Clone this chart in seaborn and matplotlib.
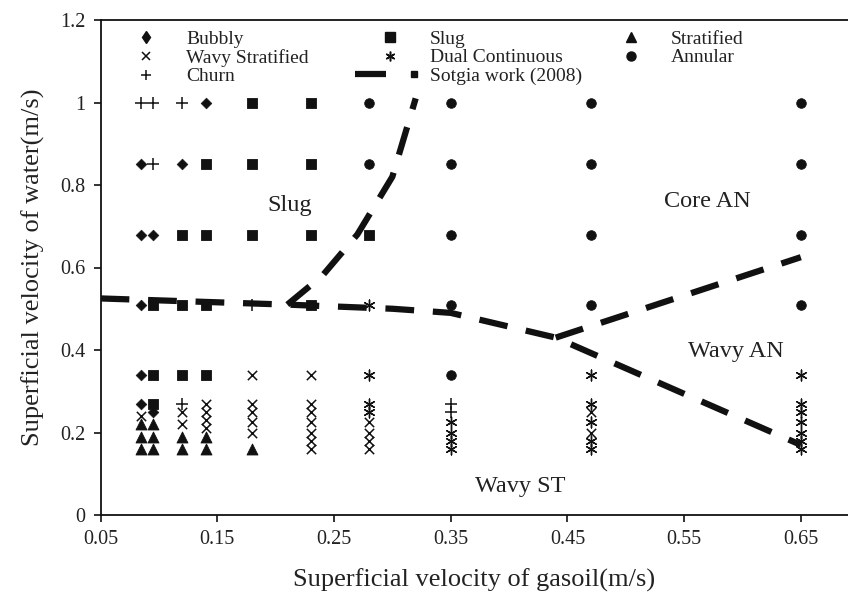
import matplotlib
matplotlib.use("Agg")
import matplotlib.pyplot as plt
import seaborn as sns
import pandas as pd
from matplotlib.lines import Line2D
from matplotlib.legend import Legend
from matplotlib.legend_handler import HandlerBase

sns.set_theme(style="ticks")
plt.rcParams["font.family"] = ["Liberation Serif", "DejaVu Serif"]

# Observed flow-pattern points (gasoil velocity, water velocity), per regime
bubbly_x = [0.14, 0.085, 0.12, 0.085, 0.095, 0.085, 0.085, 0.085, 0.095]
bubbly_y = [1.00, 0.85, 0.85, 0.68, 0.68, 0.51, 0.34, 0.27, 0.25]

slug_x = [0.18, 0.23, 0.14, 0.18, 0.23, 0.12, 0.14, 0.18, 0.23, 0.28,
          0.095, 0.12, 0.14, 0.23, 0.095, 0.12, 0.14, 0.095]
slug_y = [1.00, 1.00, 0.85, 0.85, 0.85, 0.68, 0.68, 0.68, 0.68, 0.68,
          0.51, 0.51, 0.51, 0.51, 0.34, 0.34, 0.34, 0.27]

strat_x = [0.085, 0.085, 0.085, 0.095, 0.095, 0.095, 0.12, 0.12, 0.14, 0.14, 0.18]
strat_y = [0.22, 0.19, 0.16, 0.22, 0.19, 0.16, 0.19, 0.16, 0.19, 0.16, 0.16]

wavy_x = [0.085, 0.12, 0.12, 0.14, 0.14, 0.14, 0.14,
          0.18, 0.18, 0.18, 0.18, 0.18,
          0.23, 0.23, 0.23, 0.23, 0.23, 0.23, 0.23,
          0.28, 0.28, 0.28, 0.28, 0.47, 0.47]
wavy_y = [0.24, 0.25, 0.22, 0.27, 0.25, 0.23, 0.21,
          0.34, 0.27, 0.25, 0.225, 0.20,
          0.34, 0.27, 0.25, 0.225, 0.20, 0.18, 0.16,
          0.225, 0.20, 0.18, 0.16, 0.25, 0.20]

dual_x = [0.28, 0.28, 0.28, 0.28, 0.35, 0.35, 0.35, 0.35,
          0.47, 0.47, 0.47, 0.47, 0.47,
          0.65, 0.65, 0.65, 0.65, 0.65, 0.65, 0.65]
dual_y = [0.51, 0.34, 0.27, 0.25, 0.225, 0.20, 0.18, 0.16,
          0.34, 0.27, 0.225, 0.18, 0.16,
          0.34, 0.27, 0.25, 0.225, 0.20, 0.18, 0.16]

annular_x = [0.28, 0.35, 0.47, 0.65, 0.28, 0.35, 0.47, 0.65,
             0.35, 0.47, 0.65, 0.35, 0.47, 0.65, 0.35]
annular_y = [1.00, 1.00, 1.00, 1.00, 0.85, 0.85, 0.85, 0.85,
             0.68, 0.68, 0.68, 0.51, 0.51, 0.51, 0.34]

churn_x = [0.085, 0.095, 0.12, 0.095, 0.18, 0.12, 0.35, 0.35]
churn_y = [1.00, 1.00, 1.00, 0.85, 0.51, 0.27, 0.27, 0.25]

# Transition boundaries from Sotgia et al. (2008)
stratified_bound_x = [0.05, 0.21, 0.30, 0.35, 0.44, 0.65]
stratified_bound_y = [0.525, 0.51, 0.50, 0.49, 0.43, 0.17]
slug_bound_x = [0.21, 0.24, 0.27, 0.30, 0.32]
slug_bound_y = [0.51, 0.58, 0.68, 0.82, 1.01]
annular_bound_x = [0.44, 0.65]
annular_bound_y = [0.43, 0.625]

region_names = ["Slug", "Core AN", "Wavy AN", "Wavy ST"]
region_x = [0.212, 0.57, 0.594, 0.41]
region_y = [0.75, 0.76, 0.397, 0.068]

x_ticks = [0.05, 0.15, 0.25, 0.35, 0.45, 0.55, 0.65]
y_ticks = [0, 0.2, 0.4, 0.6, 0.8, 1.0, 1.2]

INK = "#111111"
TXT = "#222222"

W, H = 848, 593
fig = plt.figure(figsize=(W / 100, H / 100), dpi=100)
ax = fig.add_axes([100.6 / W, 78 / H, 1 - 100.6 / W, 495 / H])

# boundaries
dash = (0, (4.6, 3.0))
for bx, by in [(stratified_bound_x, stratified_bound_y),
               (slug_bound_x, slug_bound_y),
               (annular_bound_x, annular_bound_y)]:
    sns.lineplot(x=bx, y=by, sort=False, ax=ax, color=INK, lw=4.5,
                 linestyle=dash, dash_capstyle="butt", zorder=2)

# regimes
styles = [
    ("Bubbly", bubbly_x, bubbly_y, dict(marker="D", s=30)),
    ("Slug", slug_x, slug_y, dict(marker="s", s=58)),
    ("Stratified", strat_x, strat_y, dict(marker="^", s=62)),
    ("Wavy Stratified", wavy_x, wavy_y, dict(marker="x", s=45, linewidth=1.1)),
    ("Dual Continuous", dual_x, dual_y, dict(marker=(6, 2, 0), s=60, linewidth=1.0)),
    ("Annular", annular_x, annular_y, dict(marker="o", s=48)),
    ("Churn", churn_x, churn_y, dict(marker="+", s=70, linewidth=1.1)),
]
for name, xs, ys, kw in styles:
    df = pd.DataFrame({"x": xs, "y": ys})
    sns.scatterplot(data=df, x="x", y="y", ax=ax, color=INK,
                    edgecolor=INK, zorder=3, legend=False, **kw)

for name, tx, ty in zip(region_names, region_x, region_y):
    ax.text(tx, ty, name, ha="center", va="center", fontsize=17.5, color=TXT)

ax.set_xlim(0.05, 0.05 + (W - 100.6) / 1167)
ax.set_ylim(0, 1.2)
ax.set_xticks(x_ticks)
ax.set_xticklabels([f"{v:.2f}" for v in x_ticks])
ax.set_yticks(y_ticks)
ax.set_yticklabels(["0", "0.2", "0.4", "0.6", "0.8", "1", "1.2"])
ax.tick_params(direction="out", length=5, width=1.2, colors=INK,
               labelsize=14.5, labelcolor=TXT, pad=6)
for s in ["left", "bottom", "top"]:
    ax.spines[s].set_color(INK)
    ax.spines[s].set_linewidth(1.3)
ax.spines["right"].set_visible(False)
ax.set_xlabel("Superficial velocity of gasoil(m/s)", fontsize=19, color=TXT, labelpad=14)
ax.set_ylabel("Superficial velocity of water(m/s)", fontsize=19, color=TXT, labelpad=11)
ax.grid(False)


class SotgiaHandler(HandlerBase):
    """Thick dash followed by a small square, drawn left of the label."""
    def create_artists(self, legend, orig_handle, xdescent, ydescent,
                       width, height, fontsize, trans):
        yc = height / 2 - ydescent
        cx = width / 2 - xdescent
        seg = Line2D([cx - 25, cx - 3], [yc, yc], color=INK, lw=4.5,
                     solid_capstyle="butt", transform=trans)
        sq = Line2D([cx + 17], [yc], marker="s", ms=4.5, color=INK,
                    linestyle="none", transform=trans)
        return [seg, sq]


def mk(marker, ms, mew=1.0):
    return Line2D([], [], marker=marker, color=INK, linestyle="none", ms=ms, mew=mew)


sotgia = Line2D([], [], color=INK)
columns = [
    ([mk("d", 6.5), mk("x", 6, 1.1), mk("+", 7.5, 1.1)],
     ["Bubbly", "Wavy Stratified", "Churn"], 146),
    ([mk("s", 6.5), mk((6, 2, 0), 7, 1.1), sotgia],
     ["Slug", "Dual Continuous", "Sotgia work (2008)"], 390),
    ([mk("^", 6.5), mk("o", 6.5)], ["Stratified", "Annular"], 631),
]
fs = 14
hl = 2.0
hl_px = hl * fs * 100 / 72
for handles, labels, xm in columns:
    leg = Legend(ax, handles, labels, loc="upper left",
                 bbox_to_anchor=((xm - hl_px / 2) / W, 1 - 30 / H),
                 bbox_transform=fig.transFigure, frameon=False,
                 fontsize=fs, handlelength=hl, handletextpad=1.06,
                 labelspacing=0.06, borderpad=0, borderaxespad=0,
                 handler_map={sotgia: SotgiaHandler()})
    for t in leg.get_texts():
        t.set_color(TXT)
    ax.add_artist(leg)

fig.savefig("out.png", dpi=100)
